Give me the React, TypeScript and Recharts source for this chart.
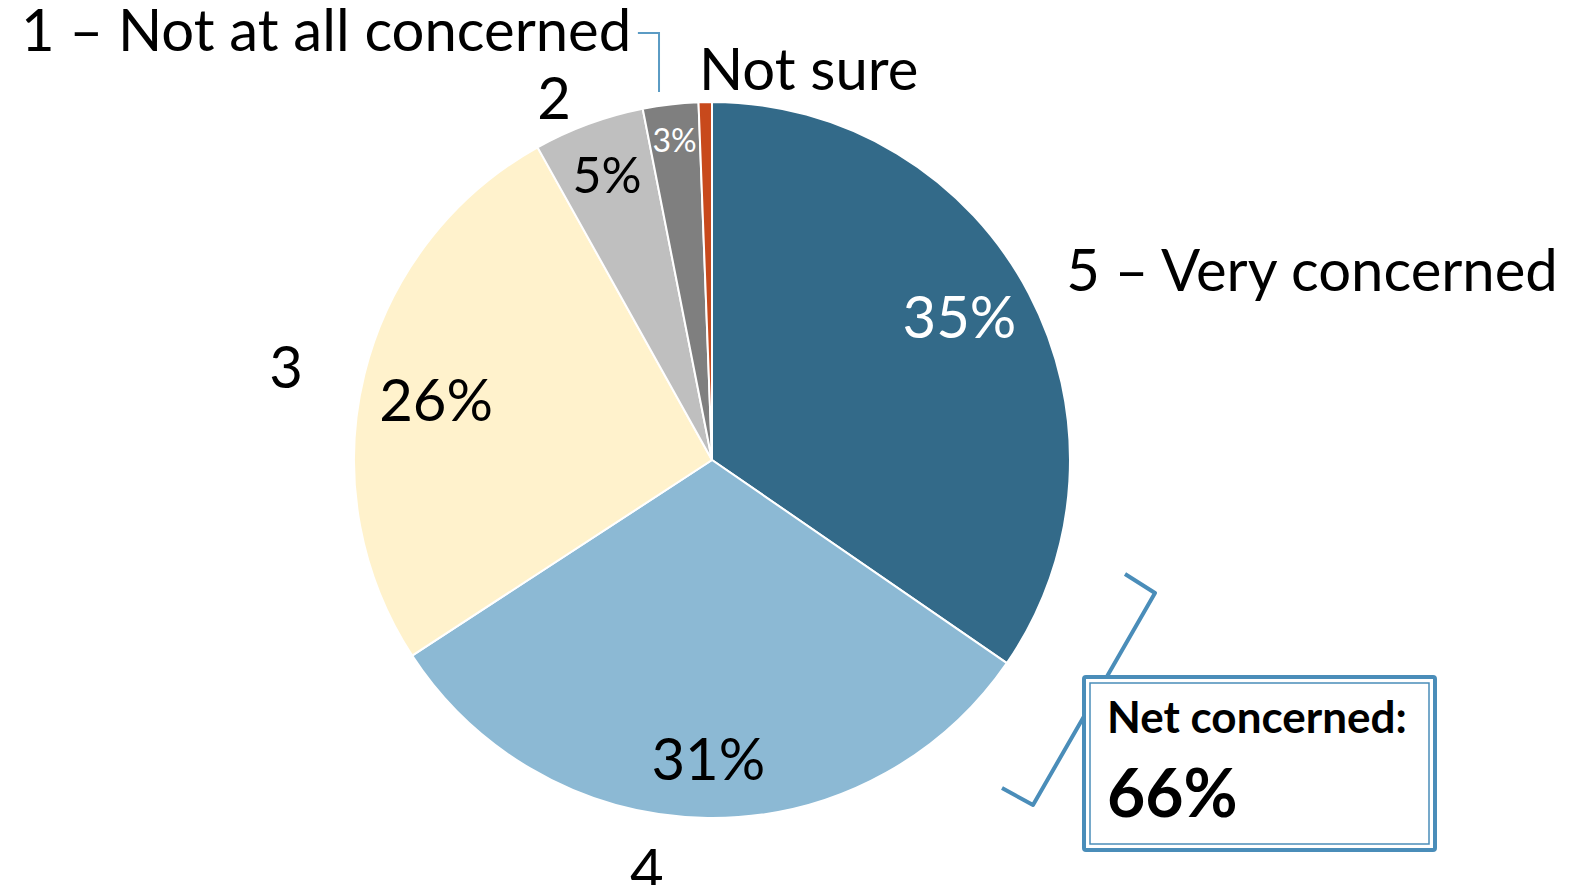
import { PieChart, Pie, Cell } from "recharts";

const categories = ["5 – Very concerned", "4", "3", "2", "1 – Not at all concerned", "Not sure"];
const shares = [34.6, 31.2, 26.1, 5.0, 2.5, 0.6];
const pctLabels = ["35%", "31%", "26%", "5%", "3%", ""];
const netLabel = "Net concerned:";
const netValue = "66%";

const COLORS = ["#336a89", "#8cb9d4", "#fff2cc", "#bfbfbf", "#7f7f7f", "#c8491c"];
const PCT_COLORS = ["#fff", "#000", "#000", "#000", "#fff", "#000"];
const PCT_SIZE = [58, 58, 58, 50, 32, 0];
const PCT_RADIUS = [0.8, 0.83, 0.79, 0.85, 0.9, 0];
const PCT_TURN = [2.5, 0, 1.2, 0, 0, 0];
// category label offsets, in units of the pie radius from its centre
const CAT_POS = [
  [1.676, -0.534],
  [-0.182, 1.142],
  [-1.19, -0.263],
  [-0.441, -1.014],
  [-1.078, -1.204],
  [0.27, -1.095],
];

const FONT = "Lato, 'Noto Sans', sans-serif";
const W = 1594;
const H = 893;
const RAD = Math.PI / 180;

const data = categories.map((c, i) => ({ name: c, value: shares[i] }));

function renderLabel(props: any) {
  const { cx, cy, midAngle, outerRadius, index } = props;
  const r = outerRadius;
  const a = (midAngle + PCT_TURN[index]) * RAD;
  const px = cx + r * PCT_RADIUS[index] * Math.cos(-a);
  const py = cy + r * PCT_RADIUS[index] * Math.sin(-a);
  const [fx, fy] = CAT_POS[index];
  const lx = cx + fx * r;
  const ly = cy + fy * r;
  return (
    <g key={"lbl" + index}>
      {pctLabels[index] && (
        <text
          x={px}
          y={py}
          textAnchor="middle"
          dominantBaseline="central"
          fill={PCT_COLORS[index]}
          fontSize={PCT_SIZE[index]}
          fontFamily={FONT}
        >
          {pctLabels[index]}
        </text>
      )}
      <text x={lx} y={ly} textAnchor="middle" dominantBaseline="central" fill="#000" fontSize={58} fontFamily={FONT}>
        {categories[index]}
      </text>
      {index === 4 && (
        <polyline
          points={`${cx - 0.207 * r},${cy - 1.193 * r} ${cx - 0.148 * r},${cy - 1.193 * r} ${cx - 0.148 * r},${cy - 1.028 * r}`}
          fill="none"
          stroke="#5b9bc4"
          strokeWidth={2}
        />
      )}
    </g>
  );
}

export default function App() {
  return (
    <div style={{ position: "relative", width: W, height: H, margin: -8, background: "#fff", overflow: "hidden" }}>
      <PieChart width={W} height={H} margin={{ top: 0, right: 0, bottom: 0, left: 0 }}>
        <Pie
          data={data}
          dataKey="value"
          cx={712}
          cy={460}
          outerRadius={358}
          startAngle={90}
          endAngle={-270}
          stroke="#fff"
          strokeWidth={2}
          label={renderLabel}
          labelLine={false}
          isAnimationActive={false}
        >
          {data.map((d, i) => (
            <Cell key={d.name} fill={COLORS[i]} />
          ))}
        </Pie>
      </PieChart>
      <svg width={W} height={H} style={{ position: "absolute", left: 0, top: 0, pointerEvents: "none" }}>
        <polyline
          points="1125,574 1155,593 1033,805 1002,788"
          fill="none"
          stroke="#4a8db9"
          strokeWidth={4}
          strokeLinejoin="round"
        />
        <rect x={1084} y={677} width={351} height={173} rx={2} fill="#fff" stroke="#4a8db9" strokeWidth={4} />
        <rect x={1090} y={683} width={339} height={161} fill="none" stroke="#4a8db9" strokeWidth={1.5} />
        <text x={1107} y={733} fontFamily={FONT} fontWeight={700} fontSize={44} fill="#000">
          {netLabel}
        </text>
        <text x={1107} y={817} fontFamily={FONT} fontWeight={700} fontSize={66} fill="#000">
          {netValue}
        </text>
      </svg>
    </div>
  );
}
